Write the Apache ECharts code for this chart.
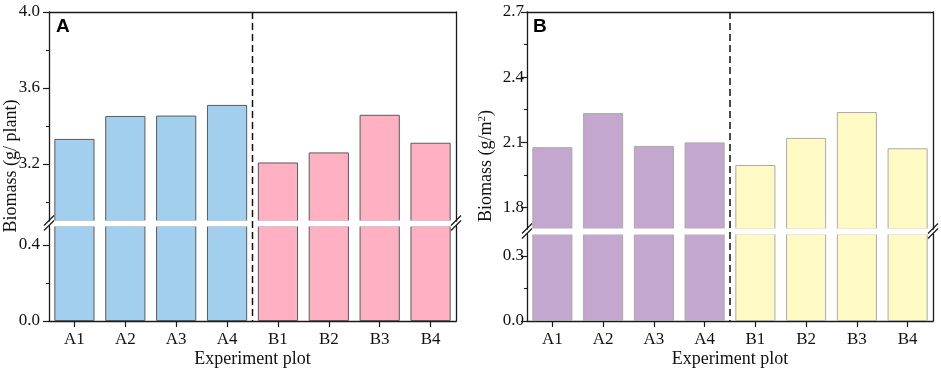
<!DOCTYPE html>
<html>
<head>
<meta charset="utf-8">
<script src="https://cdn.jsdelivr.net/npm/echarts@6/dist/echarts.min.js"></script>
<style>html,body{margin:0;padding:0;background:#fff}#c{width:941px;height:373px}</style>
</head>
<body>
<div id="c"></div>
<script>
// ---- data ----
const categories = ['A1', 'A2', 'A3', 'A4', 'B1', 'B2', 'B3', 'B4'];
const biomassPerPlant = [3.332, 3.453, 3.455, 3.511, 3.208, 3.261, 3.459, 3.312];
const biomassPerArea = [2.077, 2.234, 2.083, 2.099, 1.995, 2.120, 2.239, 2.072];
// tick labels (broken axes: upper / lower segments)
const ticksA_upper = [3.2, 3.6, 4.0];
const ticksA_lower = [0.0, 0.4];
const minorA_upper = [3.0, 3.4, 3.8];
const minorA_lower = [0.2];
const ticksB_upper = [1.8, 2.1, 2.4, 2.7];
const ticksB_lower = [0.0, 0.3];
const minorB_upper = [1.95, 2.25, 2.55];
const minorB_lower = [0.15];
const rangeA_upper = [2.9, 4.0];
const rangeA_lower = [0, 0.5];
const rangeB_upper = [1.7, 2.7];
const rangeB_lower = [0, 0.4];

// ---- styles ----
const FONT = 'Liberation Serif';
const AX = '#1a1a1a';
const colorsA = ['#a3cfee', '#a3cfee', '#a3cfee', '#a3cfee', '#ffb0c2', '#ffb0c2', '#ffb0c2', '#ffb0c2'];
const colorsB = ['#c4a7ce', '#c4a7ce', '#c4a7ce', '#c4a7ce', '#fffac3', '#fffac3', '#fffac3', '#fffac3'];

const grids = [
  {left: 49, width: 407, top: 12, height: 209},   // A upper
  {left: 49, width: 407, top: 226, height: 95},   // A lower
  {left: 527, width: 406, top: 12, height: 217},  // B upper
  {left: 527, width: 406, top: 234, height: 87}   // B lower
];

function xAx(gi, isBottom) {
  return {
    type: 'category', data: categories, gridIndex: gi,
    position: isBottom ? 'bottom' : 'top',
    axisLine: {show: true, onZero: false, lineStyle: {color: AX, width: 1.3}},
    axisTick: {show: isBottom, alignWithLabel: true, length: 6, lineStyle: {color: AX, width: 1.2}},
    axisLabel: {show: isBottom, color: '#111', fontFamily: FONT, fontSize: 17, margin: 10},
    splitLine: {show: false},
    name: isBottom ? 'Experiment plot' : '',
    nameLocation: 'middle', nameGap: 29,
    nameTextStyle: {color: '#111', fontFamily: FONT, fontSize: 18}
  };
}
function yMain(gi, range, ticks, margin) {
  return {
    type: 'value', gridIndex: gi, min: range[0], max: range[1], position: 'left',
    axisLine: {show: true, onZero: false, lineStyle: {color: AX, width: 1.3}},
    axisTick: {show: true, length: 6, customValues: ticks, lineStyle: {color: AX, width: 1.2}},
    axisLabel: {show: true, customValues: ticks, formatter: v => v.toFixed(1), color: '#111', fontFamily: FONT, fontSize: 17, margin: margin},
    splitLine: {show: false}
  };
}
function yMinor(gi, range, ticks) {
  return {
    type: 'value', gridIndex: gi, min: range[0], max: range[1], position: 'left',
    axisLine: {show: false},
    axisTick: {show: true, length: 3, customValues: ticks, lineStyle: {color: AX, width: 1.1}},
    axisLabel: {show: false},
    splitLine: {show: false}
  };
}
function yRight(gi, range) {
  return {
    type: 'value', gridIndex: gi, min: range[0], max: range[1], position: 'right',
    axisLine: {show: true, onZero: false, lineStyle: {color: AX, width: 1.3}},
    axisTick: {show: false}, axisLabel: {show: false}, splitLine: {show: false}
  };
}

const xAxes = [xAx(0, false), xAx(1, true), xAx(2, false), xAx(3, true)];
const yAxes = [
  yMain(0, rangeA_upper, ticksA_upper, 9), yMinor(0, rangeA_upper, minorA_upper), yRight(0, rangeA_upper),
  yMain(1, rangeA_lower, ticksA_lower, 9), yMinor(1, rangeA_lower, minorA_lower), yRight(1, rangeA_lower),
  yMain(2, rangeB_upper, ticksB_upper, 3), yMinor(2, rangeB_upper, minorB_upper), yRight(2, rangeB_upper),
  yMain(3, rangeB_lower, ticksB_lower, 3), yMinor(3, rangeB_lower, minorB_lower), yRight(3, rangeB_lower)
];

function barSeries(xi, yi, values, colors, border) {
  return {
    type: 'bar', xAxisIndex: xi, yAxisIndex: yi, barWidth: '79%', clip: true,
    data: values.map((v, i) => ({value: v, itemStyle: {color: colors[i]}})),
    itemStyle: {borderColor: border, borderWidth: 1},
    silent: true, animation: false
  };
}

const chart = echarts.init(document.getElementById('c'), null, {renderer: 'canvas'});
chart.setOption({
  animation: false,
  backgroundColor: '#fff',
  textStyle: {fontFamily: FONT},
  grid: grids.map(g => Object.assign({outerBoundsMode: 'none', containLabel: false}, g)),
  xAxis: xAxes,
  yAxis: yAxes,
  series: [
    barSeries(0, 0, biomassPerPlant, colorsA, '#5a5a5a'),
    barSeries(1, 3, biomassPerPlant, colorsA, '#5a5a5a'),
    barSeries(2, 6, biomassPerArea, colorsB, '#a9a9a9'),
    barSeries(3, 9, biomassPerArea, colorsB, '#a9a9a9')
  ]
});

// decorations: white break band, dashed separator, break marks, axis names, panel letters
function sepX(xi) {
  const a = chart.convertToPixel({xAxisIndex: xi}, 'A4');
  const b = chart.convertToPixel({xAxisIndex: xi}, 'B1');
  return (a + b) / 2;
}
const sepA = sepX(1), sepB = sepX(3);
function band(g0, g1) {
  const yTop = g0.top + g0.height - 0.6;
  const yBot = g1.top + 0.6;
  return {type: 'rect', shape: {x: g0.left + 1, y: yTop, width: g0.width - 2, height: yBot - yTop},
    style: {fill: '#fff'}, z: 30};
}
function breakMarks(x, yc) {
  const s = {stroke: AX, lineWidth: 1.2};
  return [
    {type: 'line', shape: {x1: x - 5, y1: yc + 2, x2: x + 5, y2: yc - 8}, style: s, z: 50},
    {type: 'line', shape: {x1: x - 5, y1: yc + 7, x2: x + 5, y2: yc - 3}, style: s, z: 50}
  ];
}
const gfx = [
  band(grids[0], grids[1]), band(grids[2], grids[3]),
  {type: 'line', shape: {x1: sepA, y1: 12, x2: sepA, y2: 321}, style: {stroke: '#111', lineWidth: 1.5, lineDash: [7, 4]}, z: 40},
  {type: 'line', shape: {x1: sepB, y1: 12, x2: sepB, y2: 321}, style: {stroke: '#111', lineWidth: 1.5, lineDash: [7, 4]}, z: 40},
  ...breakMarks(49, 223.5), ...breakMarks(456, 223.5),
  ...breakMarks(527, 231.5), ...breakMarks(933, 231.5),
  {type: 'text', x: 11, y: 166, rotation: Math.PI / 2, z: 50,
    style: {text: 'Biomass (g/ plant)', fill: '#111', font: '18px "Liberation Serif"', align: 'center', verticalAlign: 'middle'}},
  {type: 'text', x: 486, y: 166, rotation: Math.PI / 2, z: 50,
    style: {text: '{n|Biomass (g/m}{s|2}{n|)}', fill: '#111', align: 'center', verticalAlign: 'middle',
      rich: {n: {fontFamily: FONT, fontSize: 18, fill: '#111'}, s: {fontFamily: FONT, fontSize: 11, fill: '#111', verticalAlign: 'top'}}}},
  {type: 'text', x: 56, y: 27, z: 50,
    style: {text: 'A', fill: '#000', font: 'bold 19px "Liberation Sans"', align: 'left', verticalAlign: 'middle'}},
  {type: 'text', x: 533, y: 27, z: 50,
    style: {text: 'B', fill: '#000', font: 'bold 19px "Liberation Sans"', align: 'left', verticalAlign: 'middle'}}
];
chart.setOption({graphic: gfx});
</script>
</body>
</html>
